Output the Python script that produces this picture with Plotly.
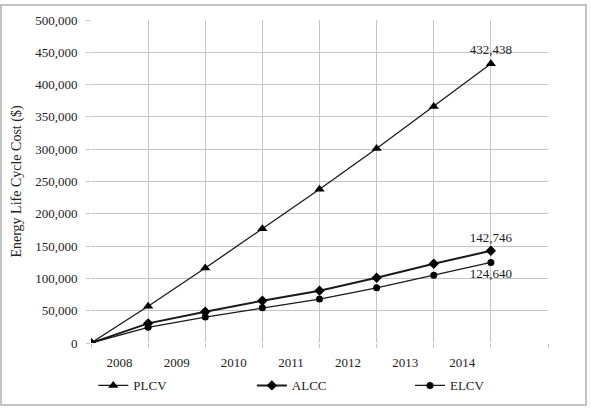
import plotly.graph_objects as go

years = ["2008", "2009", "2010", "2011", "2012", "2013", "2014"]
x_pos = [0, 1, 2, 3, 4, 5, 6, 7]
plcv = [0, 57000, 116000, 177000, 238000, 301000, 366000, 432438]
alcc = [0, 30400, 48400, 65500, 81000, 101000, 122600, 142746]
elcv = [0, 24200, 40200, 54600, 68000, 85500, 105000, 124640]
y_ticks = [0, 50000, 100000, 150000, 200000, 250000, 300000, 350000, 400000, 450000, 500000]

FONT = "Liberation Serif"
grid = "#c4c4c4"

def last_label(vals):
    return [""] * (len(vals) - 1) + [f"{vals[-1]:,}"]

fig = go.Figure()
fig.add_trace(go.Scatter(x=x_pos, y=plcv, name="PLCV", mode="lines+markers+text",
                         line=dict(color="#1a1a1a", width=1.3),
                         marker=dict(symbol="triangle-up", size=9, color="black"),
                         text=last_label(plcv), textposition="top center",
                         textfont=dict(family=FONT, size=13, color="#222"),
                         legend="legend"))
fig.add_trace(go.Scatter(x=x_pos, y=alcc, name="ALCC", mode="lines+markers+text",
                         line=dict(color="#1a1a1a", width=2),
                         marker=dict(symbol="diamond", size=8, color="black"),
                         text=last_label(alcc), textposition="top center",
                         textfont=dict(family=FONT, size=13, color="#222"),
                         legend="legend2"))
fig.add_trace(go.Scatter(x=x_pos, y=elcv, name="ELCV", mode="lines+markers+text",
                         line=dict(color="#1a1a1a", width=1.3),
                         marker=dict(symbol="circle", size=7, color="black"),
                         text=last_label(elcv), textposition="bottom center",
                         textfont=dict(family=FONT, size=13, color="#222"),
                         legend="legend3"))

leg_common = dict(orientation="h", xanchor="left", y=-0.085, yanchor="top",
                  itemwidth=30, font=dict(family=FONT, size=13),
                  bgcolor="rgba(0,0,0,0)")

fig.update_layout(
    width=591, height=408,
    margin=dict(l=91, r=43, t=20, b=65, autoexpand=False),
    paper_bgcolor="white", plot_bgcolor="white",
    font=dict(family=FONT, size=13, color="#222"),
    showlegend=True,
    legend=dict(x=0.005, **leg_common),
    legend2=dict(x=0.352, **leg_common),
    legend3=dict(x=0.698, **leg_common),
    xaxis=dict(range=[0, 8], tickmode="array",
               tickvals=[i + 0.5 for i in range(len(years))], ticktext=years,
               showgrid=False, zeroline=False, showline=False, ticks="",
               ticklabelstandoff=10,
               minor=dict(tickmode="array", tickvals=list(range(9)), showgrid=True,
                          gridcolor=grid, gridwidth=1, ticks="outside", ticklen=4,
                          tickcolor=grid)),
    yaxis=dict(range=[0, 500000], tickmode="array", tickvals=y_ticks,
               ticktext=[f"{v:,}" for v in y_ticks],
               showgrid=True, gridcolor=grid, gridwidth=1, zeroline=False,
               showline=False, ticks="outside", ticklen=4, tickcolor=grid,
               ticklabelstandoff=6,
               title=dict(text="Energy Life Cycle Cost ($)", standoff=10,
                          font=dict(family=FONT, size=14))),
    shapes=[dict(type="rect", xref="paper", yref="paper",
                 x0=-90 / 457, x1=1 + 38 / 457, y0=-62 / 323, y1=1 + 15 / 323,
                 line=dict(color="#b0b0b0", width=1.5), layer="below")],
)

fig.write_html("out.html")
